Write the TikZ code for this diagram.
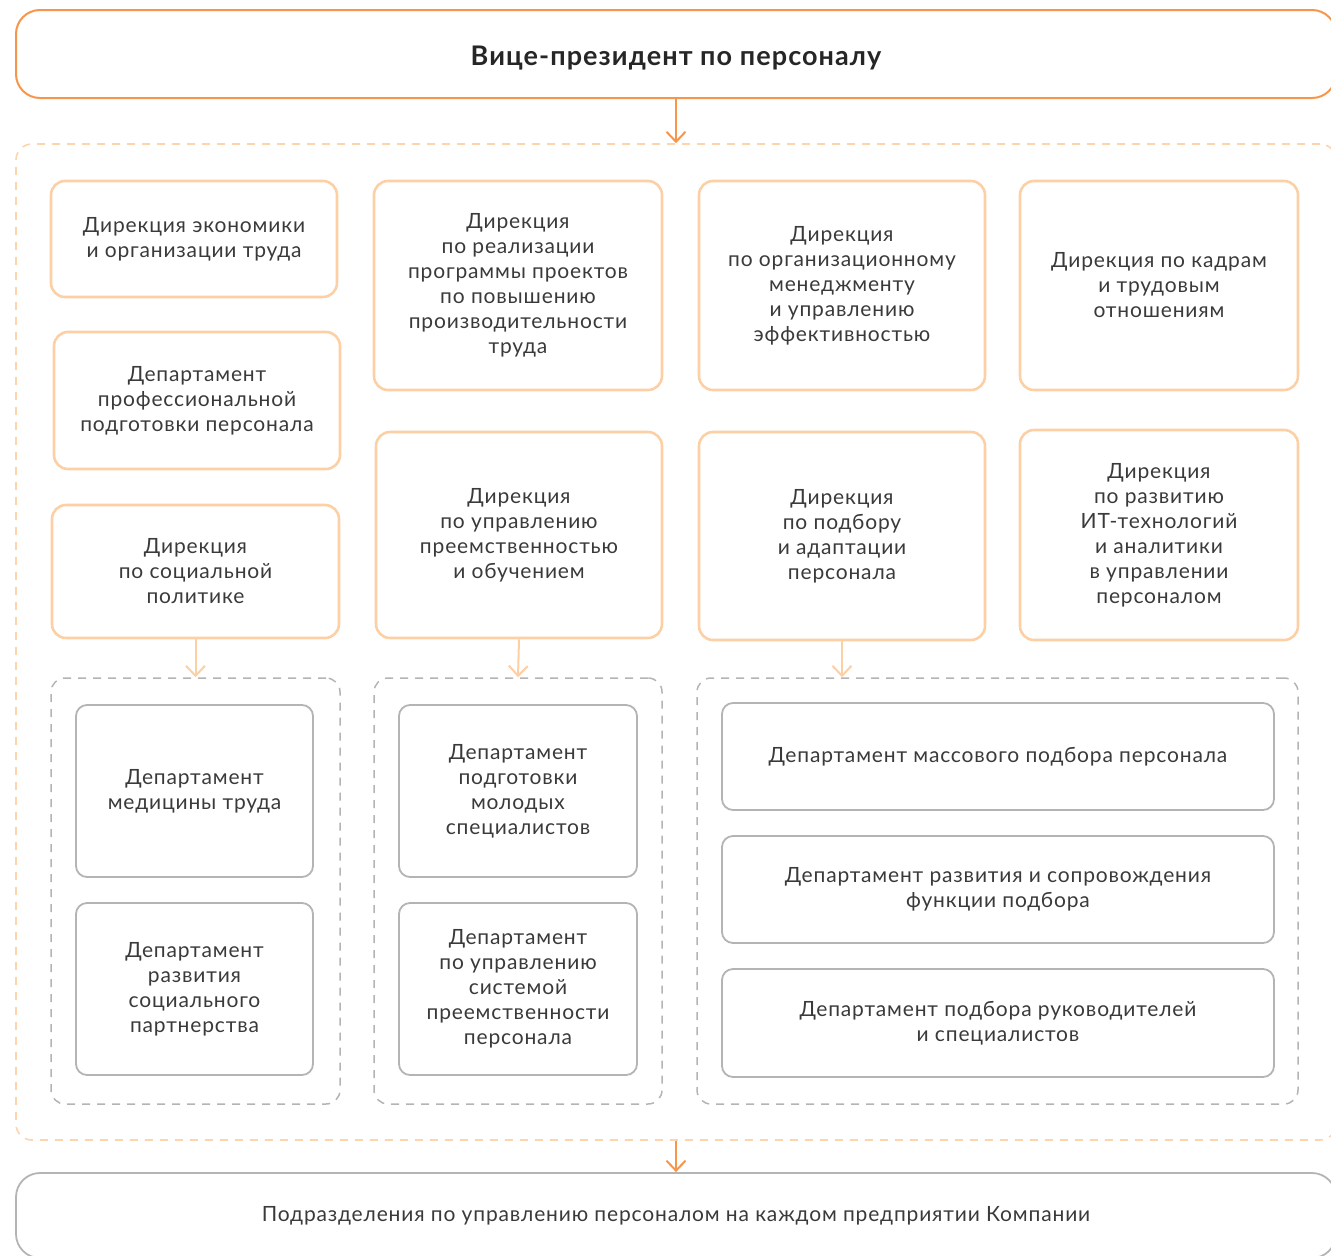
\documentclass[tikz,border=0pt]{standalone}
\usepackage{fontspec}
\setmainfont{Lato}[LetterSpace=4]
\usetikzlibrary{arrows.meta}
\definecolor{vporange}{HTML}{F7964B}
\definecolor{vppeach}{HTML}{FDCFA5}
\definecolor{vpgray}{HTML}{B4B4B4}
\definecolor{vptext}{HTML}{3A3A3A}
\begin{document}
\begin{tikzpicture}[x=1pt,y=-1pt,
  every node/.style={font=\fontsize{21}{25}\selectfont,text=vptext,align=center,inner sep=0pt},
  dirbox/.style={draw=vppeach,line width=2.6pt,rounded corners=14pt},
  depbox/.style={draw=vpgray,line width=1.8pt,rounded corners=11pt},
  grpbox/.style={draw=vpgray,line width=1.5pt,rounded corners=14pt,dash pattern=on 8pt off 7pt},
  vparrow/.style={-{Straight Barb[length=10pt,width=19pt]},line width=2pt}]
\useasboundingbox (0,0) rectangle (1331,1256);
% Top
\node[draw=vporange,line width=2pt,rounded corners=24pt,minimum width=1320pt,minimum height=88pt,font=\fontsize{27}{30}\selectfont\bfseries,text=black!85] (vp) at (676,54) {\raisebox{-4pt}[\height][\depth]{Вице-президент по персоналу}};
\node[draw=vppeach!90,line width=1.6pt,rounded corners=16pt,dash pattern=on 8pt off 7pt,minimum width=1320pt,minimum height=996pt] (all) at (676,642) {};
\draw[vparrow,vporange] (vp.south) -- (all.north);
% Column 1
\node[dirbox,minimum width=286pt,minimum height=116pt] (econ) at (194,239) {Дирекция экономики\\и организации труда};
\node[dirbox,minimum width=286pt,minimum height=137pt] (prof) at (197,400.5) {Департамент\\профессиональной\\подготовки персонала};
\node[dirbox,minimum width=287pt,minimum height=133pt] (soc) at (195.5,571.5) {Дирекция\\по социальной\\политике};
% Column 2
\node[dirbox,minimum width=288pt,minimum height=209pt] (prodt) at (518,285.5) {Дирекция\\по реализации\\программы проектов\\по повышению\\производительности\\труда};
\node[dirbox,minimum width=286pt,minimum height=206pt] (succ) at (519,535) {Дирекция\\по управлению\\преемственностью\\и обучением};
% Column 3
\node[dirbox,minimum width=286pt,minimum height=209pt] (orgm) at (842,285.5) {Дирекция\\по организационному\\менеджменту\\и управлению\\эффективностью};
\node[dirbox,minimum width=286pt,minimum height=208pt] (recr) at (842,536) {Дирекция\\по подбору\\и адаптации\\персонала};
% Column 4
\node[dirbox,minimum width=278pt,minimum height=209pt] (kadr) at (1159,285.5) {Дирекция по кадрам\\и трудовым\\отношениям};
\node[dirbox,minimum width=278pt,minimum height=210pt] (itan) at (1159,535) {Дирекция\\по развитию\\ИТ-технологий\\и аналитики\\в управлении\\персоналом};
% Groups of departments
\node[grpbox,minimum width=289pt,minimum height=426pt] (gsoc) at (195.5,891) {};
\node[grpbox,minimum width=288pt,minimum height=426pt] (gsucc) at (518,891) {};
\node[grpbox,minimum width=601pt,minimum height=426pt] (grecr) at (997.5,891) {};
\draw[vparrow,vppeach] (soc.south) -- (gsoc.north);
\draw[vparrow,vppeach] (succ.south) -- (gsucc.north);
\draw[vparrow,vppeach] (recr.south) -- (grecr.north -| recr.south);
\node[depbox,minimum width=237pt,minimum height=172pt] (med) at (194.5,791) {Департамент\\медицины труда};
\node[depbox,minimum width=237pt,minimum height=172pt] (part) at (194.5,989) {Департамент\\развития\\социального\\партнерства};
\node[depbox,minimum width=238pt,minimum height=172pt] (young) at (518,791) {Департамент\\подготовки\\молодых\\специалистов};
\node[depbox,minimum width=238pt,minimum height=172pt] (ssys) at (518,989) {Департамент\\по управлению\\системой\\преемственности\\персонала};
\node[depbox,minimum width=552pt,minimum height=107pt] (mass) at (998,756.5) {Департамент массового подбора персонала};
\node[depbox,minimum width=552pt,minimum height=107pt] (func) at (998,889.5) {Департамент развития и сопровождения\\функции подбора};
\node[depbox,minimum width=552pt,minimum height=108pt] (lead) at (998,1023) {Департамент подбора руководителей\\и специалистов};
% Bottom
\node[depbox,rounded corners=24pt,minimum width=1320pt,minimum height=85pt] (plants) at (676,1215.5) {Подразделения по управлению персоналом на каждом предприятии Компании};
\draw[vparrow,vporange] (all.south) -- (plants.north);
\end{tikzpicture}
\end{document}
